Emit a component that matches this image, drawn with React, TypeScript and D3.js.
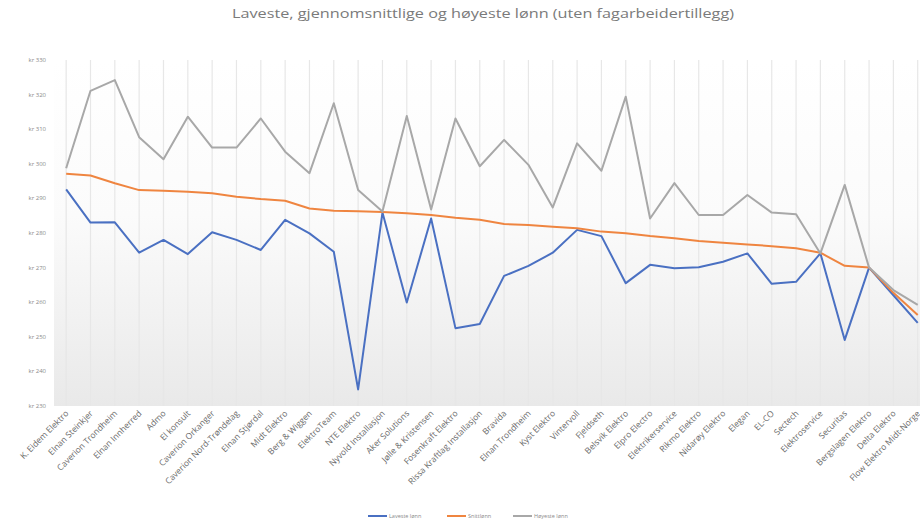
import React from "react";
import * as d3 from "d3";

const categories = [
  "K. Eidem Elektro", "Elnan Steinkjer", "Caverion Trondheim", "Elnan Innherred", "Admo",
  "El konsult", "Caverion Orkanger", "Caverion Nord-Trøndelag", "Elnan Stjørdal", "Midt Elektro",
  "Berg & Wiggen", "ElektroTeam", "NTE Elektro", "Nyvold Installasjon", "Aker Solutions",
  "Jølle & Kristensen", "Fosenkraft Elektro", "Rissa Kraftlag Installasjon", "Bravida", "Elnan Trondheim",
  "Kyst Elektro", "Vintervoll", "Fjeldseth", "Belsvik Elektro", "Elpro Electro",
  "Elektrikerservice", "Rikmo Elektro", "Nidarøy Elektro", "Elegan", "EL-CO",
  "Sectech", "Elektroservice", "Securitas", "Bergslagen Elektro", "Delta Elektro",
  "Flow Elektro Midt-Norge",
];

const lowest = [
  292.6, 283.0, 283.1, 274.3, 278.0, 273.9, 280.2, 278.0, 275.1, 283.8,
  279.9, 274.6, 234.8, 285.9, 259.9, 284.2, 252.5, 253.7, 267.6, 270.5,
  274.3, 280.9, 279.1, 265.5, 270.8, 269.8, 270.1, 271.7, 274.1, 265.3,
  265.9, 274.1, 249.1, 270.0, 262.0, 254.0,
];

const average = [
  297.1, 296.6, 294.4, 292.4, 292.2, 291.9, 291.5, 290.5, 289.8, 289.3,
  287.1, 286.4, 286.3, 286.1, 285.7, 285.2, 284.4, 283.8, 282.6, 282.3,
  281.8, 281.4, 280.4, 279.9, 279.1, 278.5, 277.7, 277.2, 276.7, 276.2,
  275.6, 274.3, 270.5, 270.0, 262.7, 256.3,
];

const highest = [
  298.7, 321.1, 324.2, 307.7, 301.3, 313.6, 304.7, 304.7, 313.1, 303.5,
  297.3, 317.5, 292.4, 286.2, 313.8, 286.8, 313.1, 299.3, 306.9, 299.7,
  287.4, 305.9, 298.0, 319.4, 284.2, 294.4, 285.2, 285.2, 291.0, 285.9,
  285.4, 274.1, 293.9, 270.0, 263.5, 259.2,
];

const yTicks = [230, 240, 250, 260, 270, 280, 290, 300, 310, 320, 330];

const seriesNames = ["Laveste lønn", "Snittlønn", "Høyeste lønn"];
const seriesColors = ["#4a70c2", "#ef8540", "#a8a8a8"];

export default function App() {
  const W = 920;
  const H = 519;
  const plotLeft = 54;
  const plotRight = 54 + 36 * 24.33;
  const x = d3.scaleBand<string>().domain(categories).range([plotLeft, plotRight]);
  const cx = (c: string) => (x(c) as number) + x.bandwidth() / 2;
  const y = d3.scaleLinear().domain([230, 330]).range([406, 60]);
  const seriesData = [lowest, average, highest];
  const line = d3
    .line<number>()
    .x((_, i) => cx(categories[i]))
    .y((v) => y(v));
  const font = "'Open Sans', 'Noto Sans', sans-serif";
  const legendX = [368, 447, 513];

  return (
    <svg
      width={W}
      height={H}
      style={{ position: "absolute", left: 0, top: 0, background: "#fff" }}
      fontFamily={font}
    >
      <defs>
        <linearGradient id="bg" x1="0" y1="0" x2="0" y2="1">
          <stop offset="0" stopColor="#ffffff" />
          <stop offset="0.45" stopColor="#fbfbfb" />
          <stop offset="1" stopColor="#e9e9e9" />
        </linearGradient>
      </defs>
      <rect x={plotLeft} y={60} width={plotRight - plotLeft} height={406 - 60} fill="url(#bg)" />
      {categories.map((c) => (
        <line
          key={"g" + c}
          x1={cx(c)}
          x2={cx(c)}
          y1={y(330)}
          y2={y(230)}
          stroke="#e7e7e7"
          strokeWidth={1.2}
        />
      ))}
      <text
        x={483}
        y={18}
        textAnchor="middle"
        fontSize={12.5}
        fill="#7a7a7a"
        textLength={502}
        lengthAdjust="spacingAndGlyphs"
      >
        Laveste, gjennomsnittlige og høyeste lønn (uten fagarbeidertillegg)
      </text>
      {yTicks.map((t) => (
        <text key={t} x={46} y={y(t) + 2} textAnchor="end" fontSize={6} fill="#8a8a8a">
          {"kr " + t}
        </text>
      ))}
      {seriesData.map((s, k) => (
        <path
          key={k}
          d={line(s) as string}
          fill="none"
          stroke={seriesColors[k]}
          strokeWidth={2}
          strokeLinejoin="round"
        />
      ))}
      {categories.map((c) => (
        <text
          key={"l" + c}
          transform={`translate(${cx(c) + 3},${414}) rotate(-45)`}
          textAnchor="end"
          fontSize={8.5}
          fill="#6a6a6a"
        >
          {c}
        </text>
      ))}
      {seriesNames.map((n, k) => (
        <g key={n} transform={`translate(${legendX[k]},516)`}>
          <line x1={0} x2={19} y1={0} y2={0} stroke={seriesColors[k]} strokeWidth={2} />
          <text x={21} y={2} fontSize={5.5} fill="#8a8a8a">
            {n}
          </text>
        </g>
      ))}
    </svg>
  );
}
